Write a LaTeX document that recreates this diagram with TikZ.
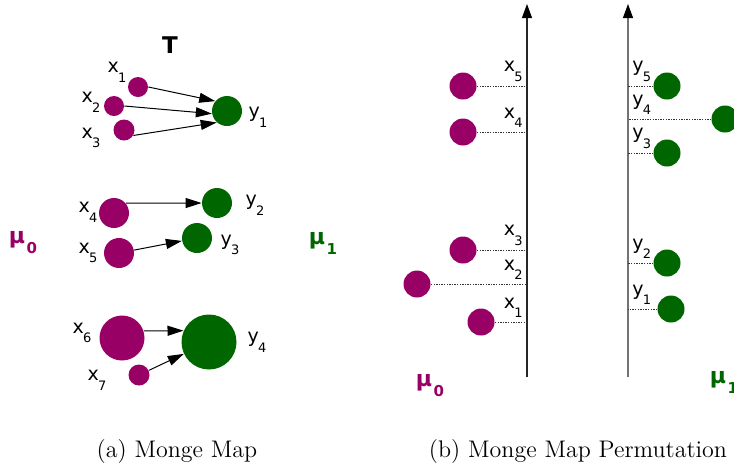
\documentclass[tikz,border=0pt]{standalone}
\usepackage{fontspec}
\newfontfamily\labfont{DejaVu Sans}
\usepackage{tikz}
\usetikzlibrary{arrows.meta}
\usepackage{xcolor}

\definecolor{srcpurple}{RGB}{153,0,102}
\definecolor{tgtgreen}{RGB}{0,102,0}
\newcommand\ptlab[2]{#1\kern-0.4pt\raisebox{-4.8pt}{\fontsize{6.5}{6.5}\selectfont #2}}
\newcommand\mulab[1]{μ\kern0.8pt\raisebox{-5pt}{\fontsize{7.5}{7.5}\selectfont #1}}

\begin{document}
\begin{tikzpicture}[
  x=0.5pt, y=-0.5pt,
  src/.style={circle, fill=srcpurple, inner sep=0pt, minimum size=#1},
  tgt/.style={circle, fill=tgtgreen, inner sep=0pt, minimum size=#1},
  lab/.style={inner sep=0pt, font=\labfont\fontsize{9.5}{9.5}\selectfont},
  mu/.style={inner sep=0pt, font=\labfont\bfseries\fontsize{11}{11}\selectfont},
  map/.style={-{Triangle[length=8pt,width=5pt]}, line width=0.5pt},
  axis/.style={-{Triangle[length=7pt,width=5pt,color=black]}, line width=0.55pt},
  guide/.style={line width=0.5pt, black!80, dash pattern=on 0.7pt off 0.6pt},
  caption/.style={inner sep=0pt, font=\fontsize{12}{14}\selectfont}
]
  \clip (0,0) rectangle (734,468);
  %% (a) Monge map
  \node[lab, font=\labfont\bfseries\fontsize{11.5}{11.5}\selectfont] (T) at (170,45) {T};
  \node[src=10pt] (x1) at (138,87) {};
  \node[src=10pt] (x2) at (114,106) {};
  \node[src=10.5pt] (x3) at (124,130) {};
  \node[tgt=15pt] (y1) at (227,111) {};
  \node[src=15pt] (x4) at (114,213) {};
  \node[src=15pt] (x5) at (119,253) {};
  \node[tgt=15pt] (y2) at (217,203) {};
  \node[tgt=15pt] (y3) at (197,238) {};
  \node[src=22.5pt] (x6) at (122,338) {};
  \node[src=10.5pt] (x7) at (139,375) {};
  \node[tgt=27.5pt] (y4) at (209,342) {};
  \node[lab] (lx1) at (117,72) {\ptlab{x}{1}};
  \node[lab] (lx2) at (91,102) {\ptlab{x}{2}};
  \node[lab] (lx3) at (91,138) {\ptlab{x}{3}};
  \node[lab] (ly1) at (258,117) {\ptlab{y}{1}};
  \node[lab] (lx4) at (88,212) {\ptlab{x}{4}};
  \node[lab] (lx5) at (88,253) {\ptlab{x}{5}};
  \node[lab] (ly2) at (255,205) {\ptlab{y}{2}};
  \node[lab] (ly3) at (230,245) {\ptlab{y}{3}};
  \node[lab] (lx6) at (82,333) {\ptlab{x}{6}};
  \node[lab] (lx7) at (97,380) {\ptlab{x}{7}};
  \node[lab] (ly4) at (257,342) {\ptlab{y}{4}};
  \draw[map] (x1.east) -- (y1.140);
  \draw[map] (x2.east) -- (y1.190);
  \draw[map] (x3.-30) -- (y1.228);
  \draw[map] (x4.40) -- (y2.west);
  \draw[map] (x5) -- (y3);
  \draw[map] (x6.18) -- (y4.156);
  \draw[map] (x7) -- (y4);
  \node[mu, text=srcpurple] (mu0a) at (23,243) {\mulab{0}};
  \node[mu, text=tgtgreen] (mu1a) at (323,243) {\mulab{1}};
  %% (b) Monge map as a permutation
  \coordinate (ax1b) at (527,377); \coordinate (ax1t) at (527,4);
  \coordinate (ax2b) at (628,377); \coordinate (ax2t) at (628,4);
  \draw[axis, black!85] (ax1b) -- (ax1t);
  \draw[axis, black!55] (ax2b) -- (ax2t);
  \node[src=13.5pt] (px5) at (463,86) {};
  \node[src=13.5pt] (px4) at (463,132) {};
  \node[src=13.5pt] (px3) at (463,250) {};
  \node[src=13.5pt] (px2) at (417,284) {};
  \node[src=13.5pt] (px1) at (481,322) {};
  \node[tgt=13.5pt] (py5) at (667,86) {};
  \node[tgt=13.5pt] (py4) at (725,119) {};
  \node[tgt=13.5pt] (py3) at (667,153) {};
  \node[tgt=13.5pt] (py2) at (667,263) {};
  \node[tgt=13.5pt] (py1) at (671,309) {};
  \draw[guide] (px5) -- (px5 -| ax1b);
  \draw[guide] (px4) -- (px4 -| ax1b);
  \draw[guide] (px3) -- (px3 -| ax1b);
  \draw[guide] (px2) -- (px2 -| ax1b);
  \draw[guide] (px1) -- (px1 -| ax1b);
  \draw[guide] (py5) -- (py5 -| ax2b);
  \draw[guide] (py4) -- (py4 -| ax2b);
  \draw[guide] (py3) -- (py3 -| ax2b);
  \draw[guide] (py2) -- (py2 -| ax2b);
  \draw[guide] (py1) -- (py1 -| ax2b);
  \node[lab, anchor=south east, xshift=-2pt, yshift=2pt] (lpx5) at (px5 -| ax1b) {\ptlab{x}{5}};
  \node[lab, anchor=south east, xshift=-2pt, yshift=2pt] (lpx4) at (px4 -| ax1b) {\ptlab{x}{4}};
  \node[lab, anchor=south east, xshift=-2pt, yshift=2pt] (lpx3) at (px3 -| ax1b) {\ptlab{x}{3}};
  \node[lab, anchor=south east, xshift=-2pt, yshift=2pt] (lpx2) at (px2 -| ax1b) {\ptlab{x}{2}};
  \node[lab, anchor=south east, xshift=-2pt, yshift=2pt] (lpx1) at (px1 -| ax1b) {\ptlab{x}{1}};
  \node[lab, anchor=south west, xshift=2pt, yshift=2pt] (lpy5) at (py5 -| ax2b) {\ptlab{y}{5}};
  \node[lab, anchor=south west, xshift=2pt, yshift=2pt] (lpy4) at (py4 -| ax2b) {\ptlab{y}{4}};
  \node[lab, anchor=south west, xshift=2pt, yshift=2pt] (lpy3) at (py3 -| ax2b) {\ptlab{y}{3}};
  \node[lab, anchor=south west, xshift=2pt, yshift=2pt] (lpy2) at (py2 -| ax2b) {\ptlab{y}{2}};
  \node[lab, anchor=south west, xshift=2pt, yshift=2pt] (lpy1) at (py1 -| ax2b) {\ptlab{y}{1}};
  \node[mu, text=srcpurple] (mu0b) at (430,386) {\mulab{0}};
  \node[mu, text=tgtgreen] (mu1b) at (724,382) {\mulab{1}};
  %% captions
  \node[caption] (capa) at (177,452) {(a) Monge Map};
  \node[caption] (capb) at (578,452) {(b) Monge Map Permutation};
\end{tikzpicture}
\end{document}
